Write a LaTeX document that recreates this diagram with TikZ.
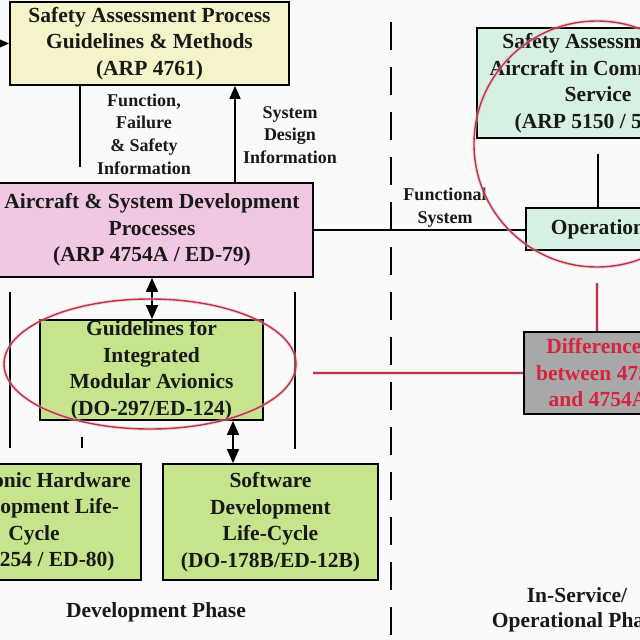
\documentclass[tikz,border=0pt]{standalone}
\usepackage{fontspec}
\setmainfont{Liberation Serif}
\usetikzlibrary{arrows.meta,shapes.geometric}
\definecolor{bgc}{RGB}{250,250,250}
\definecolor{safey}{RGB}{244,244,200}
\definecolor{pinkf}{RGB}{240,200,228}
\definecolor{greenf}{RGB}{198,228,140}
\definecolor{mintf}{RGB}{214,240,226}
\definecolor{grayf}{RGB}{168,168,168}
\definecolor{redt}{RGB}{215,35,60}
\definecolor{redl}{RGB}{190,50,70}
\definecolor{txt}{RGB}{25,25,25}
\begin{document}
\begin{tikzpicture}[x=1pt,y=-1pt,
  box/.style={draw=black, line width=1.8pt, inner sep=0pt, align=center,
    font=\fontsize{21.5}{26.5}\selectfont\bfseries, text=txt},
  lbl/.style={align=center, inner sep=0pt, text=txt,
    font=\fontsize{18}{22.7}\selectfont\bfseries},
  phase/.style={align=center, inner sep=0pt, text=txt,
    font=\fontsize{21.5}{25}\selectfont\bfseries},
  conn/.style={line width=1.6pt, draw=black},
  tip/.style={-{Triangle[length=13pt,width=11pt]}},
  dbl/.style={{Triangle[length=14pt,width=12pt]}-{Triangle[length=14pt,width=12pt]}},
  ring/.style={draw=redl, line width=1.4pt, inner sep=0pt,
    preaction={draw=redl!35, line width=3.5pt, opacity=0.5}},
  redconn/.style={draw=redl, line width=1.4pt,
    preaction={draw=redl!35, line width=3.5pt, opacity=0.5}},
  ]
\fill[bgc] (0,0) rectangle (640,640);
\useasboundingbox (0,0) rectangle (640,640);

% dashed phase separator
\coordinate (dtop) at (391,22);
\coordinate (dbot) at (391,640);
\draw[conn, dash pattern=on 28pt off 17pt] (dtop) -- (dbot);

% boxes
\node[box, fill=safey, minimum width=279, minimum height=83] (sa) at (149.5,43.5)
  {Safety Assessment Process\\Guidelines \& Methods\\(ARP 4761)};
\node[box, fill=pinkf, minimum width=322, minimum height=94] (asd) at (152,230)
  {Aircraft \& System Development\\Processes\\(ARP 4754A / ED-79)};
\node[box, fill=mintf, minimum width=242, minimum height=110] (sac) at (598,83)
  {Safety Assessment of\\Aircraft in Commercial\\Service\\(ARP 5150 / 5151)};
\node[box, fill=mintf, minimum width=144, minimum height=42] (ops) at (598,229)
  {Operation};
\node[box, fill=grayf, text=redt, minimum width=148, minimum height=82] (diff) at (598,373)
  {Differences\\between 4754\\and 4754A};
\node[box, fill=greenf, minimum width=223, minimum height=100] (ima) at (151.5,370)
  {Guidelines for\\Integrated\\Modular Avionics\\(DO-297/ED-124)};
\node[box, fill=greenf, minimum width=214, minimum height=116] (hw) at (34,522)
  {Electronic Hardware\\Development Life-\\Cycle\\(DO-254 / ED-80)};
\node[box, fill=greenf, minimum width=215, minimum height=116] (sw) at (270.5,522)
  {Software\\Development\\Life-Cycle\\(DO-178B/ED-12B)};

% labels
\node[lbl] (l1) at (144,134) {Function,\\Failure\\\& Safety\\Information};
\node[lbl] (l2) at (290,135) {System\\Design\\Information};
\node[lbl] (l3) at (445,208) {Functional\\System};
\node[phase] (dp) at (156,612) {Development Phase};
\node[phase] (isp) at (577,610) {In-Service/\\Operational Phase};

% connectors
\coordinate (lin) at (-5,43.5);
\draw[conn, tip] (lin) -- (sa.west);
\coordinate (c1) at (80,167);
\draw[conn] (c1 |- sa.south) -- (c1);
\draw[conn, tip] ([xshift=83pt]asd.north) -- ([xshift=83pt]asd.north |- sa.south);
\draw[conn] (asd.east) -- (asd.east -| ops.west);
\draw[conn, shorten <=15pt] (sac.south) -- (ops.north);
\draw[conn, dbl] (asd.south) -- (asd.south |- ima.north);
\draw[conn, dbl] ([xshift=81.5pt]ima.south) -- ([xshift=81.5pt]ima.south |- sw.north);

% vertical side lines
\coordinate (v1a) at (10,292);  \coordinate (v1b) at (10,448);
\coordinate (v2a) at (295,292); \coordinate (v2b) at (295,449);
\coordinate (v3a) at (82,437);  \coordinate (v3b) at (82,448);
\draw[conn] (v1a) -- (v1b);
\draw[conn] (v2a) -- (v2b);
\draw[conn] (v3a) -- (v3b);

% red highlight rings and links
\node[ring, ellipse, minimum width=292, minimum height=130] (imaring) at (150,364) {};
\node[ring, circle, minimum size=246] (opring) at (597,144) {};
\draw[redconn, shorten <=15pt] (opring.south) -- (opring.south |- diff.north);
\draw[redconn, shorten <=16pt] (diff.west -| imaring.east) -- (diff.west);
\end{tikzpicture}
\end{document}
